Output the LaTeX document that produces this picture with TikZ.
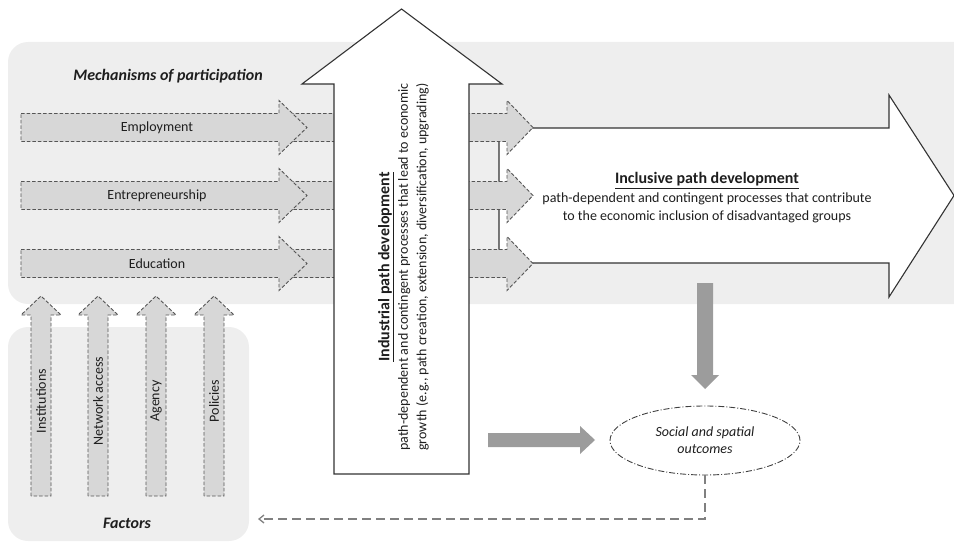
\documentclass[tikz,border=0pt]{standalone}
\usepackage{fontspec}
\setmainfont{Carlito}
\usetikzlibrary{shapes.geometric,arrows.meta}
\definecolor{panel}{HTML}{EEEEEE}
\definecolor{arrfill}{HTML}{D7D7D7}
\definecolor{arredge}{HTML}{555555}
\definecolor{blockgray}{HTML}{9C9C9C}
\definecolor{txt}{HTML}{1E1E1E}
\newcommand{\ttlfont}{\fontsize{16}{18.5}\selectfont\bfseries}
\tikzset{
  panelbox/.style={fill=panel, draw=none, rounded corners=20pt},
  dasharrow/.style={fill=arrfill, draw=arredge, dash pattern=on 3.5pt off 2pt, line width=0.9pt, line join=miter},
  bigarrow/.style={fill=white, draw=black!80, line width=1.1pt, line join=miter},
  blockarrow/.style={fill=blockgray, draw=none},
  lbl/.style={text=txt, font=\fontsize{14}{18.5}\selectfont, inner sep=0pt},
  ttl/.style={text=txt, font=\fontsize{16}{18}\selectfont\bfseries\itshape, inner sep=0pt},
  outc/.style={ellipse, draw=black!75, dash pattern=on 6pt off 2pt on 1pt off 2pt, line width=0.9pt, minimum width=190pt, minimum height=69pt, inner sep=0pt, align=center, text=txt, font=\fontsize{14}{17}\selectfont\itshape},
  feedback/.style={draw=black!50, line width=1.3pt, dash pattern=on 9pt off 5pt, -{Straight Barb[length=5pt,width=8pt]}}
}
\begin{document}
\begin{tikzpicture}[x=1pt,y=-1pt]
\useasboundingbox (0,0) rectangle (954,543);
% panels
\path[panelbox] (8,42) rectangle (974,304);
\path[panelbox] (8,327) rectangle (249,541);
\node[ttl] (mech) at (168,76) {Mechanisms of participation};
\node[ttl] (fact) at (127,523) {Factors};
% inclusive big arrow
\draw[bigarrow] (499,128) -- (889,128) -- (889,95) -- (954,195.5) -- (889,297) -- (889,263) -- (499,263) -- cycle;
\node[lbl, align=center] (incl) at (707,198) {{\ttlfont\underline{Inclusive path development}}\\path-dependent and contingent processes that contribute\\to the economic inclusion of disadvantaged groups};
% mechanism arrows
\foreach \yc/\t/\n in {127.5/Employment/emp, 195.5/Entrepreneurship/ent, 263.5/Education/edu}{
  \draw[dasharrow] (290,\yc-14) -- (507,\yc-14) -- (507,\yc-27) -- (533,\yc) -- (507,\yc+27) -- (507,\yc+14) -- (290,\yc+14) -- cycle;
  \draw[dasharrow] (21,\yc-14) -- (279,\yc-14) -- (279,\yc-27) -- (307,\yc) -- (279,\yc+27) -- (279,\yc+14) -- (21,\yc+14) -- cycle;
  \node[lbl] (\n) at (157,\yc) {\t};
}
% industrial vertical arrow
\draw[bigarrow] (334,474) -- (334,84) -- (302,84) -- (401.5,9) -- (502,84) -- (469,84) -- (469,474) -- cycle;
\node[lbl, rotate=90, align=center] (ind) at (403.5,267) {{\ttlfont\underline{Industrial path development}}\\path-dependent and contingent processes that lead to economic\\growth (e.g., path creation, extension, diversification, upgrading)};
% factor arrows
\foreach \xc/\t/\n in {41/Institutions/inst, 98/Network access/netw, 156/Agency/agen, 214/Policies/poli}{
  \draw[dasharrow] (\xc-10,496) -- (\xc-10,315) -- (\xc-20,315) -- (\xc,296) -- (\xc+20,315) -- (\xc+10,315) -- (\xc+10,496) -- cycle;
  \node[lbl, rotate=90] (\n) at (\xc,401) {\t};
}
% outcomes
\node[outc] (out) at (705,440.5) {Social and spatial\\outcomes};
\fill[blockarrow] (488,433) -- (580,433) -- (580,426) -- (595,440) -- (580,454) -- (580,447) -- (488,447) -- cycle;
\fill[blockarrow] (697,283) -- (713,283) -- (713,375) -- (719,375) -- (705,389) -- (691,375) -- (697,375) -- cycle;
\coordinate (fbend) at (258,519);
\draw[feedback] (out.south) |- (fbend);
\end{tikzpicture}
\end{document}
